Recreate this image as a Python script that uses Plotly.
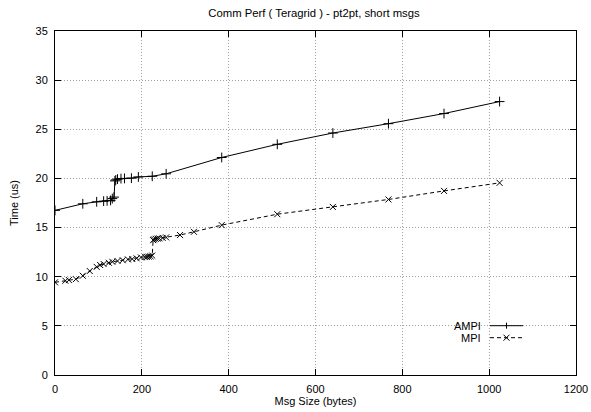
import plotly.graph_objects as go

# ---- data ----
ampi_x = [0, 64, 96, 112, 120, 128, 132, 136, 138, 140, 144, 152, 160, 176, 192, 224, 256,
          384, 512, 640, 768, 896, 1024]
ampi_y = [16.75, 17.42, 17.62, 17.69, 17.72, 17.76, 17.95, 18.1, 19.75, 19.85, 19.93, 19.98,
          20.0, 20.03, 20.15, 20.22, 20.47, 22.13, 23.47, 24.62, 25.57, 26.6, 27.82]

mpi_x = [0, 24, 32, 48, 64, 80, 96, 104, 112, 124, 132, 144, 156, 168, 178, 188, 198,
         208, 212, 216, 220, 224, 226, 228, 232, 236, 240, 248, 256, 288, 320,
         384, 512, 640, 768, 896, 1024]
mpi_y = [9.43, 9.59, 9.66, 9.75, 10.1, 10.58, 11.0, 11.19, 11.29, 11.42, 11.52, 11.6, 11.68,
         11.76, 11.8, 11.87, 11.96, 12.0, 12.02, 12.05, 12.08, 12.15, 13.72, 13.8, 13.85,
         13.88, 13.9, 13.95, 14.0, 14.24, 14.57, 15.25, 16.36, 17.1, 17.86, 18.73, 19.55]

series_names = ["AMPI", "MPI"]
title_text = "Comm Perf ( Teragrid ) - pt2pt, short msgs"
x_title = "Msg Size (bytes)"
y_title = "Time (us)"

# ---- layout geometry ----
W, H = 591, 412
L, R, T, B = 55, 15, 31, 37
pw, ph = W - L - R, H - T - B
FONT = "Liberation Sans, Arial, Helvetica, sans-serif"


def px2paper(px, py):
    return (px - L) / pw, (H - B - py) / ph


fig = go.Figure()
fig.add_trace(go.Scatter(
    x=ampi_x, y=ampi_y, mode="lines+markers", name=series_names[0],
    line=dict(color="black", width=1),
    marker=dict(symbol="cross-thin", size=7, line=dict(color="black", width=1)),
    showlegend=False))
fig.add_trace(go.Scatter(
    x=mpi_x, y=mpi_y, mode="lines+markers", name=series_names[1],
    line=dict(color="black", width=1, dash="4px,3px"),
    marker=dict(symbol="x-thin", size=6, line=dict(color="black", width=1)),
    showlegend=False))

axis_common = dict(
    showline=True, linecolor="black", linewidth=1, mirror="ticks",
    ticks="inside", ticklen=6, tickcolor="black", tickwidth=1,
    showgrid=True, gridcolor="#a0a0a0", gridwidth=1, griddash="1px,2px",
    zeroline=False, automargin=False,
    tickfont=dict(family=FONT, size=11, color="black"),
)

fig.update_xaxes(range=[0, 1200], dtick=200, tick0=0, ticklabelstandoff=4,
                 title=dict(text=x_title, font=dict(family=FONT, size=11, color="black"), standoff=2),
                 **axis_common)
fig.update_yaxes(range=[0, 35], dtick=5, tick0=0, ticklabelstandoff=4,
                 title=dict(text=y_title, font=dict(family=FONT, size=11, color="black"), standoff=14),
                 **axis_common)

# ---- gnuplot-style key (text right-aligned, sample to the right) ----
shapes = []
annotations = []
key_rows = [(series_names[0], 325.7, "solid", "plus"), (series_names[1], 337.7, "4px,3px", "x")]
for name, py, dash, sym in key_rows:
    x0, y0 = px2paper(490, py)
    x1, _ = px2paper(523, py)
    shapes.append(dict(type="line", xref="paper", yref="paper", x0=x0, x1=x1, y0=y0, y1=y0,
                       line=dict(color="black", width=1, dash=dash)))
    cx = 506.5
    if sym == "plus":
        a, b1 = px2paper(cx, py - 3)
        _, b2 = px2paper(cx, py + 3)
        shapes.append(dict(type="line", xref="paper", yref="paper", x0=a, x1=a, y0=b1, y1=b2,
                           line=dict(color="black", width=1)))
    else:
        ax1, ay1 = px2paper(cx - 3, py - 3)
        ax2, ay2 = px2paper(cx + 3, py + 3)
        shapes.append(dict(type="line", xref="paper", yref="paper", x0=ax1, x1=ax2, y0=ay1, y1=ay2,
                           line=dict(color="black", width=1)))
        shapes.append(dict(type="line", xref="paper", yref="paper", x0=ax1, x1=ax2, y0=ay2, y1=ay1,
                           line=dict(color="black", width=1)))
    tx, ty = px2paper(483, py)
    annotations.append(dict(text=name, xref="paper", yref="paper", x=tx, y=ty,
                            xanchor="right", yanchor="middle", showarrow=False,
                            font=dict(family=FONT, size=11, color="black")))

fig.update_layout(
    width=W, height=H,
    margin=dict(l=L, r=R, t=T, b=B, pad=0),
    paper_bgcolor="white", plot_bgcolor="white",
    title=dict(text=title_text, x=314 / W, xanchor="center",
               y=1 - 13.5 / H, yanchor="middle", automargin=False,
               font=dict(family=FONT, size=11.3, color="black")),
    font=dict(family=FONT, size=11, color="black"),
    shapes=shapes, annotations=annotations,
    showlegend=False,
)

fig.write_html(
    "out.html",
    config={"displayModeBar": False},
    post_script="document.body.style.margin='0';document.body.style.padding='0';"
                "document.body.style.overflow='hidden';",
)
